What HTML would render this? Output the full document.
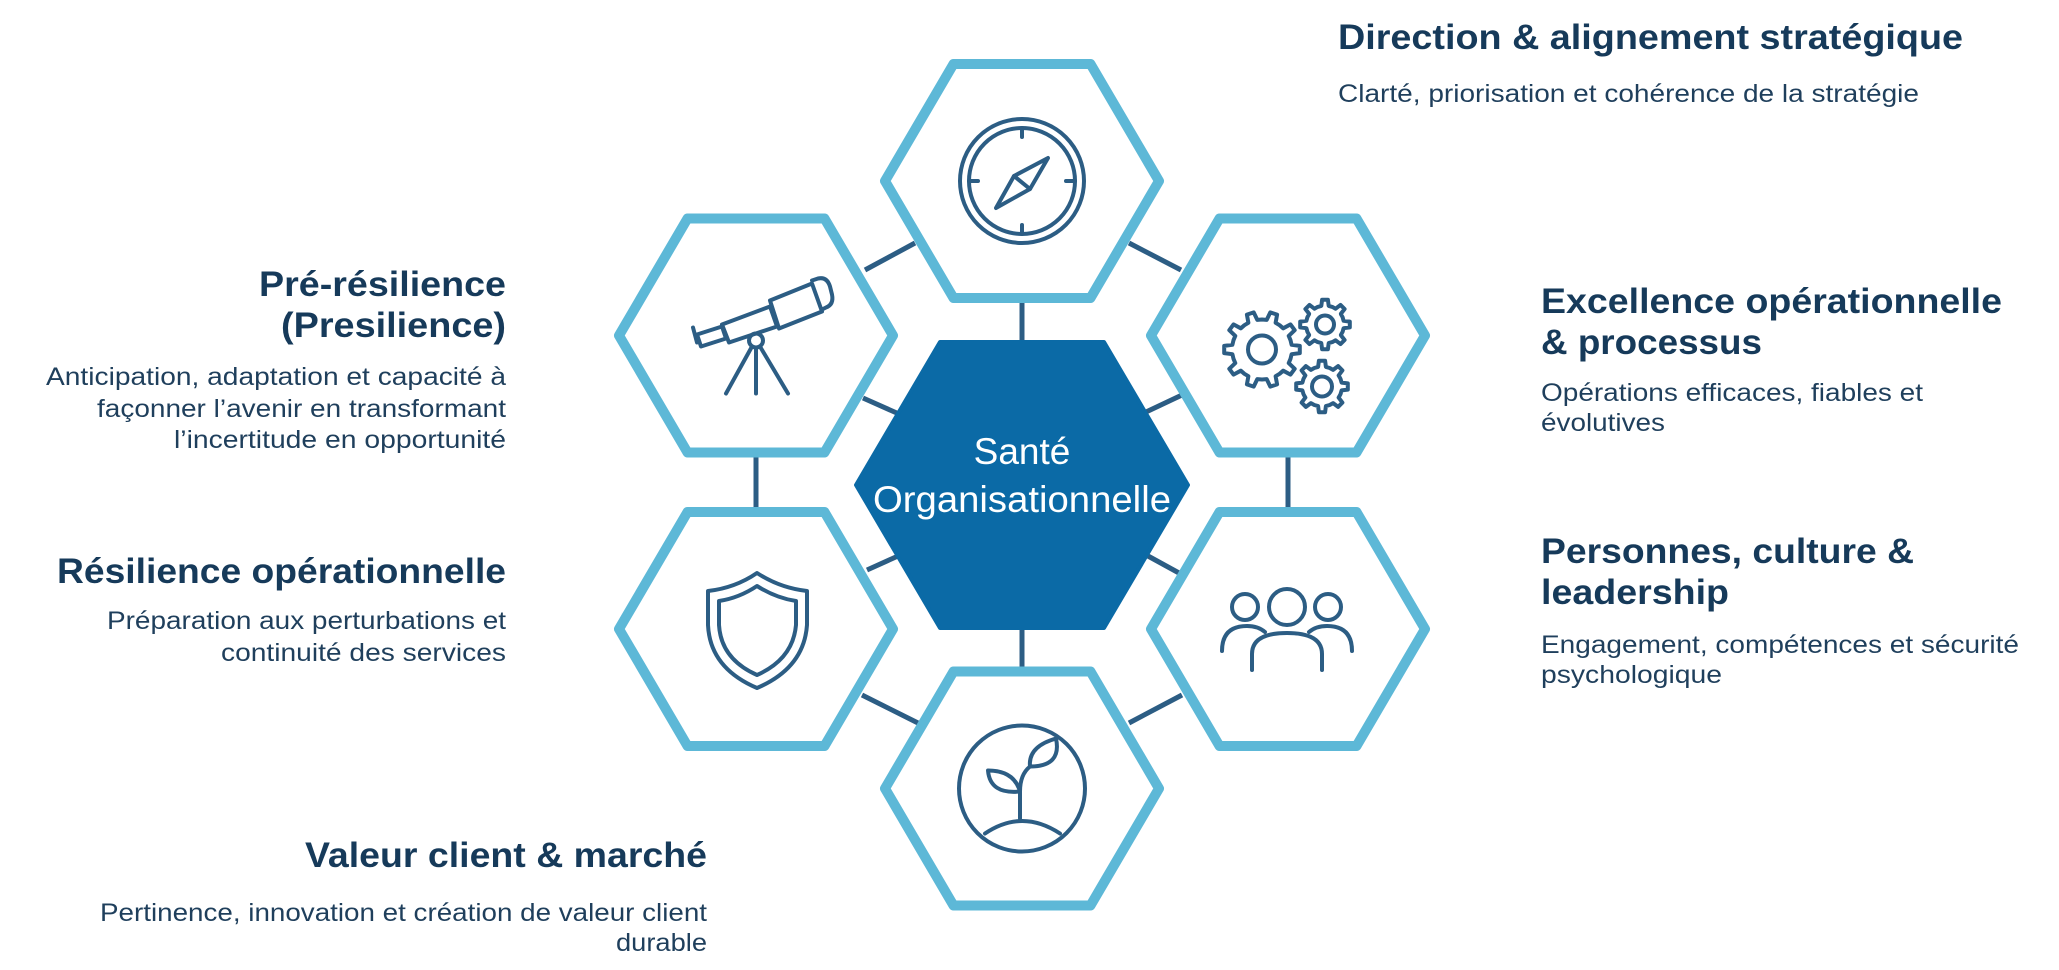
<!DOCTYPE html>
<html><head><meta charset="utf-8"><style>
html,body{margin:0;padding:0;background:#fff;}
svg{display:block;}
.t{font-family:"Liberation Sans",sans-serif;font-weight:bold;font-size:35px;fill:#163a5a;}
.s{font-family:"Liberation Sans",sans-serif;font-size:25px;fill:#1f3f5c;}
.ic{fill:none;stroke:#2c5d84;stroke-width:4;stroke-linecap:round;stroke-linejoin:round;}
</style></head><body>
<svg id="sv" width="2059" height="970" viewBox="0 0 2059 970" xmlns="http://www.w3.org/2000/svg">
<g stroke="#2c5d84" stroke-width="5" stroke-linecap="butt">
<line x1="1022" y1="300" x2="1022" y2="344"/>
<line x1="1022" y1="626" x2="1022" y2="670"/>
<line x1="756" y1="455" x2="756" y2="510"/>
<line x1="1288" y1="455" x2="1288" y2="510"/>
<line x1="865" y1="270" x2="915" y2="243"/>
<line x1="1129" y1="243" x2="1181" y2="270"/>
<line x1="863" y1="398" x2="899" y2="414"/>
<line x1="1146" y1="412" x2="1182" y2="395"/>
<line x1="867" y1="570" x2="898" y2="556"/>
<line x1="1148" y1="556" x2="1179" y2="573"/>
<line x1="862" y1="695" x2="918" y2="723"/>
<line x1="1129" y1="723" x2="1182" y2="695"/>
</g>
<g fill="#fff" stroke="#5db8d7" stroke-width="10" stroke-linejoin="round">
<path d="M885,181 L953.5,64 L1090.5,64 L1159,181 L1090.5,298 L953.5,298 Z"/>
<path d="M619,335.5 L687.5,218.5 L824.5,218.5 L893,335.5 L824.5,452.5 L687.5,452.5 Z"/>
<path d="M1151,335.5 L1219.5,218.5 L1356.5,218.5 L1425,335.5 L1356.5,452.5 L1219.5,452.5 Z"/>
<path d="M619,629 L687.5,512 L824.5,512 L893,629 L824.5,746 L687.5,746 Z"/>
<path d="M1151,629 L1219.5,512 L1356.5,512 L1425,629 L1356.5,746 L1219.5,746 Z"/>
<path d="M885,788.5 L953.5,671.5 L1090.5,671.5 L1159,788.5 L1090.5,905.5 L953.5,905.5 Z"/>
</g>
<path d="M856,485 L940,342 L1104,342 L1188,485 L1104,628 L940,628 Z" fill="#0b6aa6" stroke="#0b6aa6" stroke-width="4" stroke-linejoin="round"/>
<text x="1022" y="464" text-anchor="middle" font-family="Liberation Sans,sans-serif" font-size="37" fill="#fff">Santé</text>
<text x="1022" y="512" text-anchor="middle" font-family="Liberation Sans,sans-serif" font-size="37" fill="#fff" textLength="298" lengthAdjust="spacingAndGlyphs">Organisationnelle</text>

<g class="ic" transform="translate(0,15)">
<circle cx="1022" cy="166" r="62"/>
<circle cx="1022" cy="166" r="53"/>
<line x1="1022" y1="113" x2="1022" y2="122"/><line x1="1022" y1="210" x2="1022" y2="219"/>
<line x1="969" y1="166" x2="978" y2="166"/><line x1="1066" y1="166" x2="1075" y2="166"/>
<path d="M1048,143 L1030,174 L996,193 L1014,161 Z"/>
<line x1="1014" y1="161" x2="1030" y2="174"/>
</g>
<g class="ic" transform="translate(0,24.5)">
<path d="M693,303 L697,318"/>
<path d="M697,310 L722,302 L726,314 L701,322 Z"/>
<path d="M722,300 L770,282 L777,302 L729,318 Z"/>
<path d="M770,276 L812,259 L822,287 L779,304 Z"/>
<path d="M812,256 L818,254 Q827,252 830,262 L832,270 Q834,280 826,283 L822,285"/>
<circle cx="756" cy="316" r="7"/>
<line x1="752" y1="322" x2="726" y2="369"/>
<line x1="756" y1="323" x2="756" y2="369"/>
<line x1="760" y1="322" x2="788" y2="369"/>
</g>
<g class="ic" id="gears" transform="translate(0,24.5)">
<circle cx="1262" cy="325" r="14"/>
<circle cx="1325" cy="300" r="9"/>
<circle cx="1322" cy="362" r="10"/>
</g>
<g class="ic" transform="translate(0,45)">
<path d="M757,528 Q735,543 708,546 L708,580 Q710,623 757,643 Q804,623 807,580 L807,546 Q780,543 757,528 Z"/>
<path d="M757,541 Q739,553 719,556 L719,580 Q721,614 757,630 Q793,614 796,580 L796,556 Q776,553 757,541 Z"/>
</g>
<g class="ic">
<circle cx="1287" cy="607" r="18"/>
<circle cx="1245" cy="607" r="13"/>
<circle cx="1328" cy="607" r="13"/>
<path d="M1252,670 L1252,654 Q1252,633 1287,633 Q1322,633 1322,654 L1322,670"/>
<path d="M1222,651 Q1222,626 1247,626 Q1258,626 1265,632"/>
<path d="M1352,651 Q1352,626 1327,626 Q1316,626 1309,632"/>
</g>
<g class="ic" transform="translate(0,56.5)">
<circle cx="1022" cy="732" r="63"/>
<path d="M985,777 Q1022,752 1060,777"/>
<path d="M1020,762 L1020,735 Q1020,718 1030,710"/>
<path d="M1030,710 Q1028,690 1056,682 Q1062,710 1030,710 Z"/>
<path d="M1020,735 Q1014,714 988,714 Q990,738 1020,735 Z"/>
</g>

<text class="t" x="1338" y="49" textLength="625" lengthAdjust="spacingAndGlyphs">Direction &amp; alignement stratégique</text>
<text class="s" x="1338" y="102" textLength="581" lengthAdjust="spacingAndGlyphs">Clarté, priorisation et cohérence de la stratégie</text>

<text class="t" x="1541" y="313" textLength="461" lengthAdjust="spacingAndGlyphs">Excellence opérationnelle</text>
<text class="t" x="1541" y="354" textLength="221" lengthAdjust="spacingAndGlyphs">&amp; processus</text>
<text class="s" x="1541" y="401" textLength="382" lengthAdjust="spacingAndGlyphs">Opérations efficaces, fiables et</text>
<text class="s" x="1541" y="431" textLength="124" lengthAdjust="spacingAndGlyphs">évolutives</text>

<text class="t" x="1541" y="563" textLength="373" lengthAdjust="spacingAndGlyphs">Personnes, culture &amp;</text>
<text class="t" x="1541" y="604" textLength="188" lengthAdjust="spacingAndGlyphs">leadership</text>
<text class="s" x="1541" y="653" textLength="478" lengthAdjust="spacingAndGlyphs">Engagement, compétences et sécurité</text>
<text class="s" x="1541" y="683" textLength="181" lengthAdjust="spacingAndGlyphs">psychologique</text>

<g text-anchor="end">
<text class="t" x="506" y="296" textLength="247" lengthAdjust="spacingAndGlyphs">Pré-résilience</text>
<text class="t" x="506" y="337" textLength="225" lengthAdjust="spacingAndGlyphs">(Presilience)</text>
<text class="s" x="506" y="385" textLength="460" lengthAdjust="spacingAndGlyphs">Anticipation, adaptation et capacité à</text>
<text class="s" x="506" y="417" textLength="409" lengthAdjust="spacingAndGlyphs">façonner l’avenir en transformant</text>
<text class="s" x="506" y="448" textLength="332" lengthAdjust="spacingAndGlyphs">l’incertitude en opportunité</text>

<text class="t" x="506" y="583" textLength="449" lengthAdjust="spacingAndGlyphs">Résilience opérationnelle</text>
<text class="s" x="506" y="629" textLength="399" lengthAdjust="spacingAndGlyphs">Préparation aux perturbations et</text>
<text class="s" x="506" y="661" textLength="285" lengthAdjust="spacingAndGlyphs">continuité des services</text>

<text class="t" x="707" y="867" textLength="402" lengthAdjust="spacingAndGlyphs">Valeur client &amp; marché</text>
<text class="s" x="707" y="921" textLength="607" lengthAdjust="spacingAndGlyphs">Pertinence, innovation et création de valeur client</text>
<text class="s" x="707" y="951" textLength="91" lengthAdjust="spacingAndGlyphs">durable</text>
</g>
</svg>
<script>
(function(){
var g=document.getElementById('gears');
function gear(cx,cy,ro,ri,n){
  var d='',step=Math.PI*2/n;
  for(var i=0;i<n;i++){
    var a=i*step;
    var pts=[[ri,a-step*0.5],[ri,a-step*0.25],[ro,a-step*0.15],[ro,a+step*0.15],[ri,a+step*0.25]];
    for(var j=0;j<pts.length;j++){
      var x=cx+pts[j][0]*Math.cos(pts[j][1]),y=cy+pts[j][0]*Math.sin(pts[j][1]);
      d+=(d===''?'M':'L')+x.toFixed(1)+','+y.toFixed(1);
    }
  }
  d+='Z';
  var p=document.createElementNS('http://www.w3.org/2000/svg','path');
  p.setAttribute('d',d);g.appendChild(p);
}
gear(1262,325,38,30,10);
gear(1325,300,25,19,8);
gear(1322,362,26,20,8);
})();
</script>
</body></html>
